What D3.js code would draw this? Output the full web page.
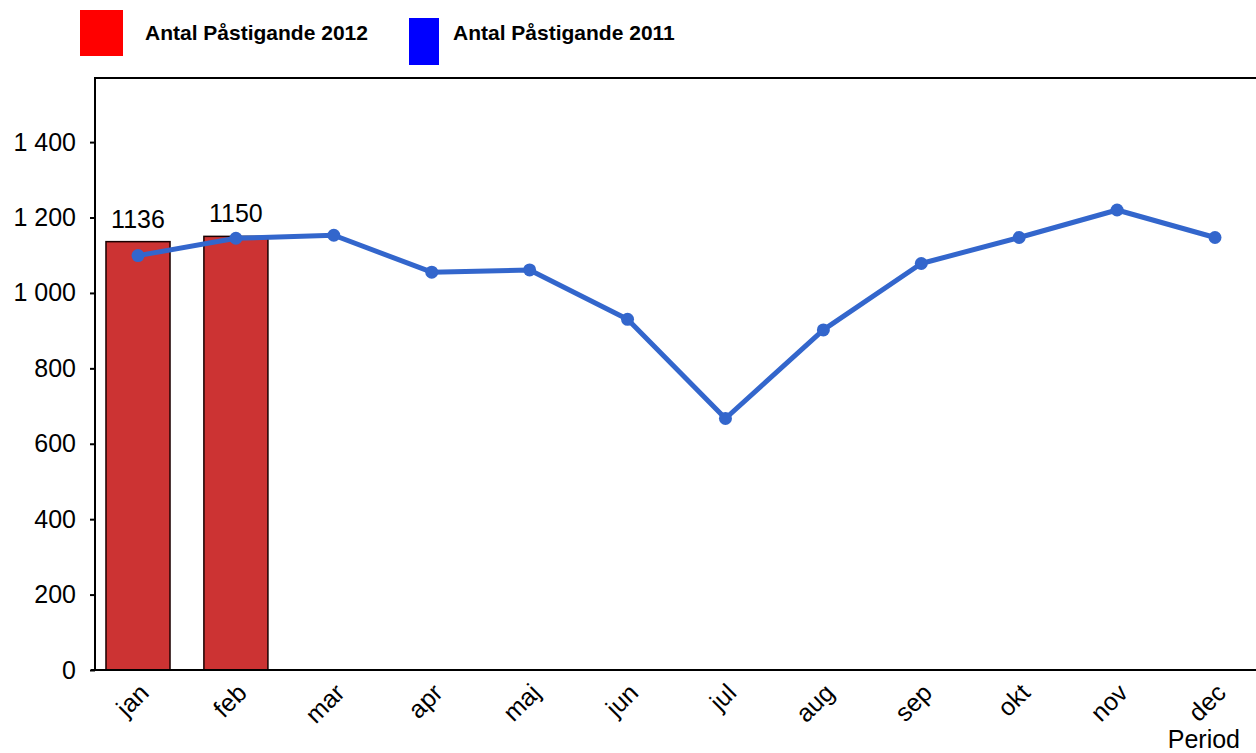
<!DOCTYPE html>
<html><head><meta charset="utf-8">
<script src="https://cdn.jsdelivr.net/npm/d3@7"></script>
<style>body{margin:0;background:#fff}svg{display:block;font-family:"Liberation Sans",Arial,sans-serif}</style>
</head><body>
<svg id="c" width="1256" height="753"></svg>
<script>
const months = ["jan","feb","mar","apr","maj","jun","jul","aug","sep","okt","nov","dec"];
const values2012 = [1136, 1150];
const values2011 = [1099, 1145, 1153, 1055, 1061, 930, 667, 902, 1078, 1147, 1220, 1147];
const yTicks = [0, 200, 400, 600, 800, 1000, 1200, 1400];
const seriesNames = ["Antal Påstigande 2012", "Antal Påstigande 2011"];
const xTitle = "Period";

(function () {
const svg = d3.select("#c");
const pl = 95, pt = 78, pr = 1256, pb = 670;
const x = d3.scalePoint().domain(months).range([138, 1215]);
const y = d3.scaleLinear().domain([0, 1570]).range([pb, pt]);
const bw = x.step() * 0.654;
const fmt = v => d3.format(",")(v).replace(/,/g, " ");

// frame top
svg.append("line").attr("x1", pl).attr("x2", pr).attr("y1", pt).attr("y2", pt)
  .attr("stroke", "#000").attr("stroke-width", 2);

// bars
svg.selectAll("rect.bar").data(values2012).join("rect")
  .attr("x", (d, i) => x(months[i]) - bw / 2)
  .attr("y", d => y(d))
  .attr("width", bw)
  .attr("height", d => pb - y(d))
  .attr("fill", "#CC3333").attr("stroke", "#1a0000").attr("stroke-width", 1.5);
svg.selectAll("text.bl").data(values2012).join("text")
  .attr("x", (d, i) => x(months[i]))
  .attr("y", d => y(d) - 14)
  .attr("text-anchor", "middle").attr("font-size", 25).attr("fill", "#000")
  .text(d => d);

// y axis
const ya = svg.append("g").attr("transform", `translate(${pl},0)`)
  .call(d3.axisLeft(y).tickValues(yTicks).tickSize(5).tickSizeOuter(0).tickFormat(fmt));
ya.select(".domain").remove();
ya.selectAll(".tick line").attr("stroke", "#000").attr("stroke-width", 2);
ya.selectAll(".tick text").attr("font-size", 25).attr("fill", "#000").attr("x", -19)
  .attr("font-family", '"Liberation Sans",Arial,sans-serif');
svg.append("line").attr("x1", pl).attr("x2", pl).attr("y1", pt - 1).attr("y2", pb + 1)
  .attr("stroke", "#000").attr("stroke-width", 2);

// x axis
svg.append("line").attr("x1", pl - 4).attr("x2", pr).attr("y1", pb).attr("y2", pb)
  .attr("stroke", "#000").attr("stroke-width", 2);
svg.selectAll("text.xl").data(months).join("text")
  .attr("transform", d => `translate(${x(d)},${pb + 12}) rotate(-45)`)
  .attr("text-anchor", "end").attr("dy", "0.7em").attr("font-size", 25).attr("fill", "#000")
  .text(d => d);
svg.append("text").attr("x", 1240).attr("y", 748).attr("text-anchor", "end")
  .attr("font-size", 25).attr("fill", "#000").text(xTitle);

// line
const line = d3.line().x((d, i) => x(months[i])).y(d => y(d));
svg.append("path").datum(values2011).attr("d", line).attr("fill", "none")
  .attr("stroke", "#3366CC").attr("stroke-width", 5).attr("stroke-linejoin", "round");
svg.selectAll("circle.pt").data(values2011).join("circle")
  .attr("cx", (d, i) => x(months[i])).attr("cy", d => y(d)).attr("r", 6.5).attr("fill", "#3366CC");

// legend
const leg = [
  {name: seriesNames[0], color: "#FF0000", rx: 80, ry: 10, rw: 43, rh: 46, tx: 145},
  {name: seriesNames[1], color: "#0000FF", rx: 409, ry: 18, rw: 30, rh: 47, tx: 453}
];
leg.forEach(l => {
  svg.append("rect").attr("x", l.rx).attr("y", l.ry).attr("width", l.rw).attr("height", l.rh).attr("fill", l.color);
  svg.append("text").attr("x", l.tx).attr("y", 40).attr("font-size", 21).attr("font-weight", "bold")
    .attr("fill", "#000").text(l.name);
});
})();
</script>
</body></html>
